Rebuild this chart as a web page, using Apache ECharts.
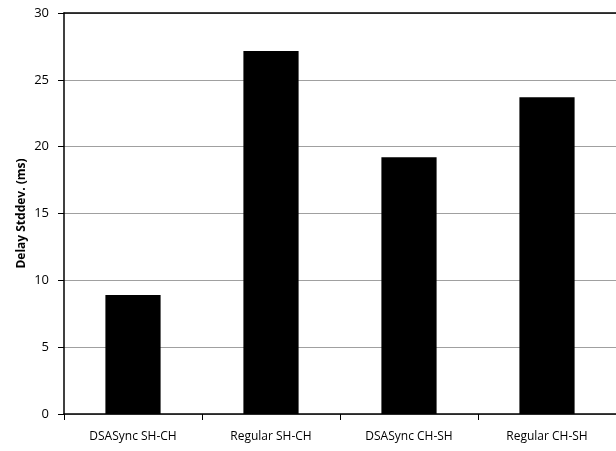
<!DOCTYPE html>
<html><head><meta charset="utf-8">
<script src="https://cdn.jsdelivr.net/npm/echarts@6/dist/echarts.min.js"></script>
<style>html,body{margin:0;padding:0;background:#fff}#c{width:616px;height:451px}</style>
</head><body><div id="c"></div>
<script>
const categories = ['DSASync SH-CH', 'Regular SH-CH', 'DSASync CH-SH', 'Regular CH-SH'];
const values = [8.9, 27.15, 19.2, 23.7];
const yTicks = [0, 5, 10, 15, 20, 25, 30];
const yName = 'Delay Stddev. (ms)';

const chart = echarts.init(document.getElementById('c'), null, {renderer: 'canvas'});
const font = 'Open Sans, Liberation Sans, sans-serif';
chart.setOption({
  animation: false,
  grid: {left: 64, right: 0, top: 13, bottom: 37},
  xAxis: [{
    type: 'category', data: categories,
    axisLine: {lineStyle: {color: '#000', width: 1.5}},
    axisTick: {show: true, length: 6, lineStyle: {color: '#000'}},
    axisLabel: {color: '#000', fontSize: 12, fontFamily: font, margin: 17, interval: 0}
  }, {
    type: 'category', data: categories, position: 'top',
    axisLine: {show: true, lineStyle: {color: '#000', width: 1.5}},
    axisTick: {show: false}, axisLabel: {show: false}
  }],
  yAxis: {
    type: 'value', min: yTicks[0], max: yTicks[yTicks.length - 1], interval: 5,
    name: yName, nameLocation: 'middle', nameGap: 36, nameRotate: 90, nameMoveOverlap: false,
    nameTextStyle: {color: '#000', fontSize: 12, fontWeight: 'bold', fontFamily: font},
    axisLine: {show: true, lineStyle: {color: '#000', width: 1.5}},
    axisTick: {show: true, length: 6, lineStyle: {color: '#000'}},
    axisLabel: {color: '#000', fontSize: 13, fontFamily: font, margin: 15},
    splitLine: {show: true, lineStyle: {color: '#a0a0a0', width: 1}}
  },
  series: [{
    type: 'bar', data: values, barWidth: '40%',
    itemStyle: {color: '#000'}
  }]
});
</script></body></html>
